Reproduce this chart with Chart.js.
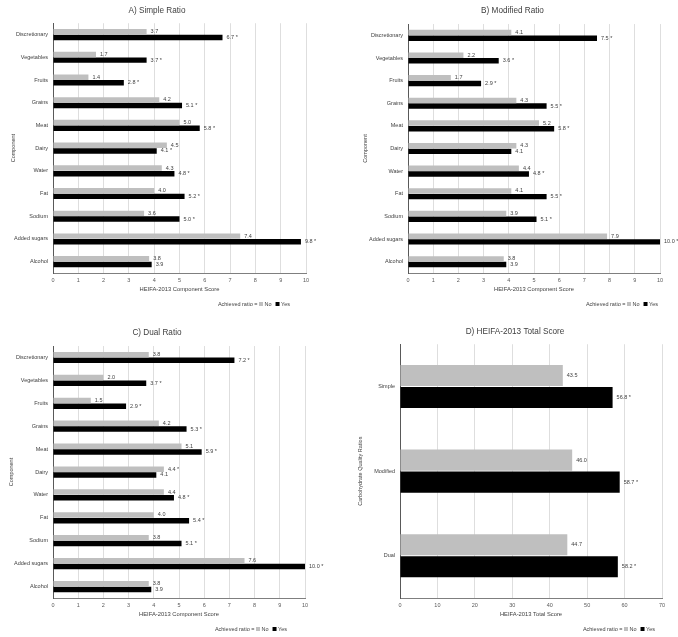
<!DOCTYPE html>
<html>
<head>
<meta charset="utf-8">
<script src="https://cdn.jsdelivr.net/npm/chart.js@4.4.0/dist/chart.umd.min.js"></script>
<style>
  body { margin: 0; background: #fff; }
  #wrap { position: relative; width: 678px; height: 637px; }
  .panel { position: absolute; }
</style>
</head>
<body>
<div id="wrap">
  <div class="panel" style="left:0;top:0;width:335px;height:312px"><canvas id="chartA"></canvas></div>
  <div class="panel" style="left:340px;top:0;width:338px;height:312px"><canvas id="chartB"></canvas></div>
  <div class="panel" style="left:0;top:318px;width:335px;height:319px"><canvas id="chartC"></canvas></div>
  <div class="panel" style="left:340px;top:318px;width:338px;height:319px"><canvas id="chartD"></canvas></div>
</div>
<script>
// HEIFA-2013 component scores by carbohydrate quality ratio
const components = ['Discretionary', 'Vegetables', 'Fruits', 'Grains', 'Meat', 'Dairy',
  'Water', 'Fat', 'Sodium', 'Added sugars', 'Alcohol'];

const simpleNo  = [3.7, 1.7, 1.4, 4.2, 5.0, 4.5, 4.3, 4.0, 3.6, 7.4, 3.8];
const simpleYes = [6.7, 3.7, 2.8, 5.1, 5.8, 4.1, 4.8, 5.2, 5.0, 9.8, 3.9];
const simpleNoSig  = [0, 0, 0, 0, 0, 0, 0, 0, 0, 0, 0];
const simpleYesSig = [1, 1, 1, 1, 1, 1, 1, 1, 1, 1, 0];

const modifiedNo  = [4.1, 2.2, 1.7, 4.3, 5.2, 4.3, 4.4, 4.1, 3.9, 7.9, 3.8];
const modifiedYes = [7.5, 3.6, 2.9, 5.5, 5.8, 4.1, 4.8, 5.5, 5.1, 10.0, 3.9];
const modifiedNoSig  = [0, 0, 0, 0, 0, 0, 0, 0, 0, 0, 0];
const modifiedYesSig = [1, 1, 1, 1, 1, 0, 1, 1, 1, 1, 0];

const dualNo  = [3.8, 2.0, 1.5, 4.2, 5.1, 4.4, 4.4, 4.0, 3.8, 7.6, 3.8];
const dualYes = [7.2, 3.7, 2.9, 5.3, 5.9, 4.1, 4.8, 5.4, 5.1, 10.0, 3.9];
const dualNoSig  = [0, 0, 0, 0, 0, 1, 0, 0, 0, 0, 0];
const dualYesSig = [1, 1, 1, 1, 1, 0, 1, 1, 1, 1, 0];

const ratios = ['Simple', 'Modified', 'Dual'];
const totalNo  = [43.5, 46.0, 44.7];
const totalYes = [56.8, 58.7, 58.2];
const totalNoSig  = [0, 0, 0];
const totalYesSig = [1, 1, 1];

const FONT = '"Liberation Sans", Arial, sans-serif';
const GREY = '#bfbfbf';
const BLACK = '#000000';

// value labels at the end of each bar ("6.7 *")
const valueLabels = {
  id: 'valueLabels',
  afterDatasetsDraw(chart) {
    const ctx = chart.ctx;
    ctx.save();
    ctx.font = '5.5px ' + FONT;
    ctx.fillStyle = '#404040';
    ctx.textAlign = 'left';
    ctx.textBaseline = 'middle';
    chart.data.datasets.forEach((ds, i) => {
      chart.getDatasetMeta(i).data.forEach((bar, j) => {
        const txt = ds.data[j].toFixed(1) + (ds.sig[j] ? ' *' : '');
        ctx.fillText(txt, bar.x + 4, bar.y);
      });
    });
    ctx.restore();
  }
};

// "Achieved ratio = ■No ■Yes" legend, right aligned under the axis title
const ratioLegend = {
  id: 'ratioLegend',
  afterDraw(chart, args, opts) {
    const ctx = chart.ctx;
    ctx.save();
    ctx.font = '5.5px ' + FONT;
    ctx.fillStyle = '#404040';
    ctx.textBaseline = 'middle';
    const prefix = 'Achieved ratio = ';
    const items = chart.data.datasets.map(d => ({ text: d.label, color: d.backgroundColor }));
    const box = 4, gap = 1.5, sep = 4;
    let total = ctx.measureText(prefix).width;
    items.forEach((it, k) => {
      total += box + gap + ctx.measureText(it.text).width + (k < items.length - 1 ? sep : 0);
    });
    const y = chart.chartArea.bottom + 31;
    let x = opts.right - total;
    ctx.fillText(prefix, x, y);
    x += ctx.measureText(prefix).width;
    items.forEach(it => {
      ctx.fillStyle = it.color;
      ctx.fillRect(x, y - box / 2, box, box);
      x += box + gap;
      ctx.fillStyle = '#404040';
      ctx.fillText(it.text, x, y);
      x += ctx.measureText(it.text).width + sep;
    });
    ctx.restore();
  }
};

function makeChart(id, p) {
  return new Chart(document.getElementById(id), {
    type: 'bar',
    data: {
      labels: p.labels,
      datasets: [
        { label: 'No', data: p.no, sig: p.noSig, backgroundColor: GREY,
          categoryPercentage: p.catPct, barPercentage: 0.96 },
        { label: 'Yes', data: p.yes, sig: p.yesSig, backgroundColor: BLACK,
          categoryPercentage: p.catPct, barPercentage: 0.96 }
      ]
    },
    options: {
      indexAxis: 'y',
      responsive: true,
      maintainAspectRatio: false,
      animation: false,
      layout: { padding: { left: p.padLeft, right: p.padRight, top: 0, bottom: 19 } },
      plugins: {
        legend: { display: false },
        tooltip: { enabled: false },
        title: {
          display: true,
          text: p.title,
          color: '#404040',
          font: { family: FONT, size: 8.2, weight: 'normal' },
          padding: { top: p.titleTop, bottom: p.titleBottom }
        },
        ratioLegend: { right: p.legendRight }
      },
      scales: {
        x: {
          min: 0,
          max: p.xMax,
          ticks: { stepSize: p.xStep, color: '#595959', font: { family: FONT, size: 5.5 }, padding: 4 },
          grid: { color: '#dedede', drawTicks: false },
          border: { color: '#7f7f7f' },
          title: {
            display: true, text: p.xTitle, color: '#404040',
            font: { family: FONT, size: 5.8 }, padding: { top: 0, bottom: 0.5 }
          },
          afterFit(scale) { scale.height = 20; }
        },
        y: {
          ticks: { color: '#404040', font: { family: FONT, size: 5.5 }, padding: 5 },
          grid: { display: false, drawTicks: false },
          border: { color: '#595959' },
          title: {
            display: true, text: p.yTitle, color: '#404040',
            font: { family: FONT, size: 5.5 }, padding: { top: p.yTitlePad, bottom: 0 }
          },
          afterFit(scale) { scale.width = p.yWidth; }
        }
      }
    },
    plugins: [valueLabels, ratioLegend]
  });
}

const componentAxis = 'HEIFA-2013 Component Score';

makeChart('chartA', {
  labels: components, no: simpleNo, yes: simpleYes, noSig: simpleNoSig, yesSig: simpleYesSig,
  title: 'A) Simple Ratio', xTitle: componentAxis, yTitle: 'Component', xMax: 10, xStep: 1,
  catPct: 0.5, padLeft: 8, padRight: 29, yWidth: 45, yTitlePad: 1.7,
  titleTop: 5.4, titleBottom: 8, legendRight: 290
});

makeChart('chartB', {
  labels: components, no: modifiedNo, yes: modifiedYes, noSig: modifiedNoSig, yesSig: modifiedYesSig,
  title: 'B) Modified Ratio', xTitle: componentAxis, yTitle: 'Component', xMax: 10, xStep: 1,
  catPct: 0.5, padLeft: 25, padRight: 18, yWidth: 43, yTitlePad: -3.3,
  titleTop: 6.2, titleBottom: 8, legendRight: 318
});

makeChart('chartC', {
  labels: components, no: dualNo, yes: dualYes, noSig: dualNoSig, yesSig: dualYesSig,
  title: 'C) Dual Ratio', xTitle: componentAxis, yTitle: 'Component', xMax: 10, xStep: 1,
  catPct: 0.5, padLeft: 9, padRight: 30, yWidth: 44, yTitlePad: -0.6,
  titleTop: 10.2, titleBottom: 8, legendRight: 287
});

makeChart('chartD', {
  labels: ratios, no: totalNo, yes: totalYes, noSig: totalNoSig, yesSig: totalYesSig,
  title: 'D) HEIFA-2013 Total Score', xTitle: 'HEIFA-2013 Total Score',
  yTitle: 'Carbohydrate Quality Ratios', xMax: 70, xStep: 10,
  catPct: 0.52, padLeft: 28, padRight: 16, yWidth: 32, yTitlePad: -10.6,
  titleTop: 8.9, titleBottom: 7.5, legendRight: 315
});
</script>
</body>
</html>
